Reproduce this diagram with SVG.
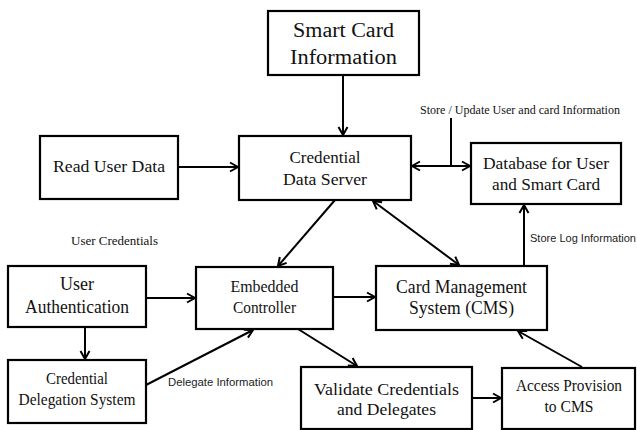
<svg xmlns="http://www.w3.org/2000/svg" width="637" height="430" viewBox="0 0 637 430">
<style>
.box rect{fill:#fff;stroke:#000;stroke-width:2.2}
.box text{font-family:"Liberation Serif","Times New Roman",Times,"DejaVu Serif",serif;fill:#111;text-anchor:middle}
.edges line{stroke:#000;stroke-width:2;fill:none}
.lbl{font-family:"Liberation Serif","Times New Roman",Times,"DejaVu Serif",serif;font-size:12px;fill:#111}
.lbls{font-family:"Liberation Sans",Arial,sans-serif;font-size:11px;fill:#222}
</style>
<defs>
<marker id="ah" markerWidth="12" markerHeight="12" refX="10" refY="6" orient="auto-start-reverse" markerUnits="userSpaceOnUse">
<path d="M2,1.5 L10,6 L2,10.5" fill="none" stroke="#000" stroke-width="2"/>
</marker>
</defs>
<rect width="637" height="430" fill="#fff"/>

<g id="smart-card-information" class="box">
<rect x="268" y="11" width="151" height="64"/>
<text x="343.5" y="37" font-size="20" textLength="101" lengthAdjust="spacingAndGlyphs">Smart Card</text>
<text x="343.5" y="64" font-size="20" textLength="107" lengthAdjust="spacingAndGlyphs">Information</text>
</g>
<g id="read-user-data" class="box">
<rect x="40" y="136" width="138" height="63"/>
<text x="109" y="172" font-size="17" textLength="112" lengthAdjust="spacingAndGlyphs">Read User Data</text>
</g>
<g id="credential-data-server" class="box">
<rect x="239" y="136" width="172" height="64"/>
<text x="325" y="163" font-size="17" textLength="71" lengthAdjust="spacingAndGlyphs">Credential</text>
<text x="325" y="185" font-size="17" textLength="84" lengthAdjust="spacingAndGlyphs">Data Server</text>
</g>
<g id="database" class="box">
<rect x="471" y="143" width="150" height="61"/>
<text x="546" y="169" font-size="17" textLength="126" lengthAdjust="spacingAndGlyphs">Database for User</text>
<text x="546" y="190" font-size="17" textLength="108" lengthAdjust="spacingAndGlyphs">and Smart Card</text>
</g>
<g id="user-authentication" class="box">
<rect x="8" y="266" width="138" height="61"/>
<text x="77" y="290" font-size="18">User</text>
<text x="77" y="313" font-size="18" textLength="104" lengthAdjust="spacingAndGlyphs">Authentication</text>
</g>
<g id="embedded-controller" class="box">
<rect x="196" y="267" width="137" height="62"/>
<text x="264.5" y="292" font-size="16" textLength="68" lengthAdjust="spacingAndGlyphs">Embedded</text>
<text x="264.5" y="313" font-size="16" textLength="63" lengthAdjust="spacingAndGlyphs">Controller</text>
</g>
<g id="card-management-system" class="box">
<rect x="376" y="266" width="171" height="64"/>
<text x="461.5" y="293" font-size="18" textLength="131" lengthAdjust="spacingAndGlyphs">Card Management</text>
<text x="461.5" y="314" font-size="18" textLength="105" lengthAdjust="spacingAndGlyphs">System (CMS)</text>
</g>
<g id="credential-delegation-system" class="box">
<rect x="8" y="360" width="138" height="63"/>
<text x="77" y="384" font-size="16" textLength="62" lengthAdjust="spacingAndGlyphs">Credential</text>
<text x="77" y="405" font-size="16" textLength="117" lengthAdjust="spacingAndGlyphs">Delegation System</text>
</g>
<g id="validate-credentials" class="box">
<rect x="301" y="367" width="171" height="62"/>
<text x="386.5" y="395" font-size="17" textLength="145" lengthAdjust="spacingAndGlyphs">Validate Credentials</text>
<text x="386.5" y="415" font-size="17" textLength="99" lengthAdjust="spacingAndGlyphs">and Delegates</text>
</g>
<g id="access-provision" class="box">
<rect x="502" y="368" width="133" height="61"/>
<text x="569" y="391" font-size="16" textLength="106" lengthAdjust="spacingAndGlyphs">Access Provision</text>
<text x="569" y="412" font-size="16" textLength="49" lengthAdjust="spacingAndGlyphs">to CMS</text>
</g>

<g id="connectors" class="edges">
<line x1="343" y1="75" x2="343" y2="135" marker-end="url(#ah)"/>
<line x1="178" y1="167" x2="238" y2="167" marker-end="url(#ah)"/>
<line x1="412" y1="166" x2="470" y2="166" marker-start="url(#ah)" marker-end="url(#ah)"/>
<line x1="451" y1="118" x2="451" y2="166"/>
<line x1="335" y1="200" x2="278" y2="266" marker-end="url(#ah)"/>
<line x1="373" y1="201" x2="459" y2="265" marker-start="url(#ah)" marker-end="url(#ah)"/>
<line x1="524" y1="266" x2="524" y2="205" marker-end="url(#ah)"/>
<line x1="146" y1="298" x2="195" y2="298" marker-end="url(#ah)"/>
<line x1="333" y1="297" x2="375" y2="297" marker-end="url(#ah)"/>
<line x1="85" y1="327" x2="85" y2="359" marker-end="url(#ah)"/>
<line x1="146" y1="385" x2="253" y2="330" marker-end="url(#ah)"/>
<line x1="298" y1="329" x2="357" y2="366" marker-end="url(#ah)"/>
<line x1="472" y1="398" x2="501" y2="398" marker-end="url(#ah)"/>
<line x1="582" y1="367" x2="518" y2="331" marker-end="url(#ah)"/>
</g>

<g id="labels">
<text class="lbl" x="420" y="114" textLength="200" lengthAdjust="spacingAndGlyphs">Store / Update User and card Information</text>
<text class="lbl" x="71" y="245" font-size="12.5" textLength="87" lengthAdjust="spacingAndGlyphs">User Credentials</text>
<text class="lbls" x="530" y="242" textLength="106" lengthAdjust="spacingAndGlyphs">Store Log Information</text>
<text class="lbls" x="168" y="386" textLength="105" lengthAdjust="spacingAndGlyphs">Delegate Information</text>
</g>
</svg>
